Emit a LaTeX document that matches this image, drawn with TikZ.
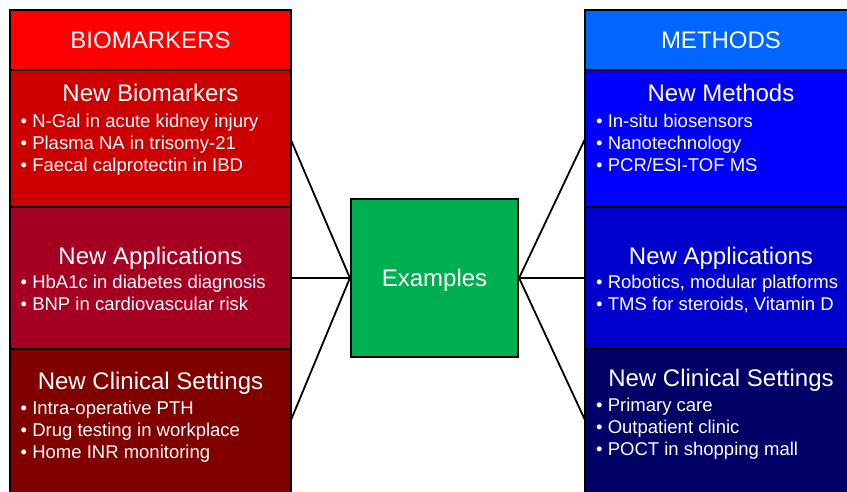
\documentclass[tikz,border=0pt]{standalone}
\usepackage{fontspec}
\setmainfont{Liberation Sans}
\definecolor{lA}{HTML}{FF0000}
\definecolor{lB}{HTML}{CC0000}
\definecolor{lC}{HTML}{A50021}
\definecolor{lD}{HTML}{800000}
\definecolor{rA}{HTML}{0066FF}
\definecolor{rB}{HTML}{0000FF}
\definecolor{rC}{HTML}{0000CC}
\definecolor{rD}{HTML}{000066}
\definecolor{gE}{HTML}{00B050}
\begin{document}
\begin{tikzpicture}[x=1pt,y=-1pt,
  box/.style={draw=black,line width=2.2pt,inner sep=0pt,rectangle},
  txt/.style={text=white,inner sep=0pt},
  hd/.style={txt,anchor=base,font=\fontsize{24}{28}\selectfont},
  bl/.style={txt,anchor=base west,font=\fontsize{18.5}{22}\selectfont},
  conn/.style={draw=black,line width=1.8pt}]
\useasboundingbox (0,0) rectangle (847,491);
% left column
\node[box,fill=lA,minimum width=281pt,minimum height=60pt] (lh) at (150.5,40) {};
\node[box,fill=lB,minimum width=281pt,minimum height=137pt] (l1) at (150.5,138.5) {};
\node[box,fill=lC,minimum width=281pt,minimum height=142pt] (l2) at (150.5,278) {};
\node[box,fill=lD,minimum width=281pt,minimum height=160pt] (l3) at (150.5,429) {};
% right column
\node[box,fill=rA,minimum width=272pt,minimum height=60pt] (rh) at (721,40) {};
\node[box,fill=rB,minimum width=272pt,minimum height=137pt] (r1) at (721,138.5) {};
\node[box,fill=rC,minimum width=272pt,minimum height=142pt] (r2) at (721,278) {};
\node[box,fill=rD,minimum width=272pt,minimum height=160pt] (r3) at (721,429) {};
% center
\node[box,fill=gE,minimum width=167pt,minimum height=158pt] (ex) at (434.5,278) {};
\node[hd] (exT) at (434.5,286) {Examples};
% connectors
\coordinate (la) at (291,140);
\coordinate (lb) at (291,420);
\coordinate (ra) at (585,139);
\coordinate (rb) at (585,420);
\draw[conn] (la) -- (ex.west);
\draw[conn] (lb) -- (ex.west);
\draw[conn] (l2.east) -- (ex.west);
\draw[conn] (ra) -- (ex.east);
\draw[conn] (rb) -- (ex.east);
\draw[conn] (r2.west) -- (ex.east);
% left texts
\node[hd] (lhT) at (150.5,48) {BIOMARKERS};
\node[hd] (l1T) at (150.5,101) {New Biomarkers};
\node[bl] (l1a) at (20.5,127) {• N-Gal in acute kidney injury};
\node[bl] (l1b) at (20.5,149) {• Plasma NA in trisomy-21};
\node[bl] (l1c) at (20.5,171) {• Faecal calprotectin in IBD};
\node[hd] (l2T) at (150.5,264) {New Applications};
\node[bl] (l2a) at (20.5,288) {• HbA1c in diabetes diagnosis};
\node[bl] (l2b) at (20.5,310) {• BNP in cardiovascular risk};
\node[hd] (l3T) at (150.5,389) {New Clinical Settings};
\node[bl] (l3a) at (20.5,414) {• Intra-operative PTH};
\node[bl] (l3b) at (20.5,436) {• Drug testing in workplace};
\node[bl] (l3c) at (20.5,458) {• Home INR monitoring};
% right texts
\node[hd] (rhT) at (721,48) {METHODS};
\node[hd] (r1T) at (721,101) {New Methods};
\node[bl] (r1a) at (596,127) {• In-situ biosensors};
\node[bl] (r1b) at (596,149) {• Nanotechnology};
\node[bl] (r1c) at (596,171) {• PCR/ESI-TOF MS};
\node[hd] (r2T) at (721,264) {New Applications};
\node[bl] (r2a) at (596,288) {• Robotics, modular platforms};
\node[bl] (r2b) at (596,310) {• TMS for steroids, Vitamin D};
\node[hd] (r3T) at (721,386) {New Clinical Settings};
\node[bl] (r3a) at (596,411) {• Primary care};
\node[bl] (r3b) at (596,433) {• Outpatient clinic};
\node[bl] (r3c) at (596,455) {• POCT in shopping mall};
\end{tikzpicture}
\end{document}
